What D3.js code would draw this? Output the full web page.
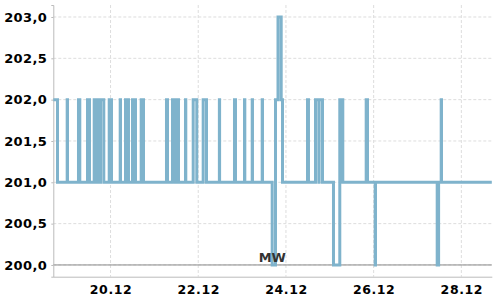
<!DOCTYPE html>
<html>
<head>
<meta charset="utf-8">
<script src="https://cdn.jsdelivr.net/npm/d3@7"></script>
<style>
  html, body { margin: 0; padding: 0; background: #fff; }
  svg { display: block; }
  .tick-label { font-family: "DejaVu Sans", sans-serif; font-size: 13px; font-weight: bold; fill: #000; letter-spacing: 0.4px; }
  .x-label { font-size: 12.5px; letter-spacing: 0.6px; }
  .mw-label { font-family: "DejaVu Sans", sans-serif; font-size: 13px; font-weight: bold; fill: #333; }
</style>
</head>
<body>
<svg id="chart" width="500" height="300"></svg>
<script>
// change points of the series (value holds until the next time)
const times = [
    "18.12 16:40", "18.12 18:58", "19.12 00:16", "19.12 00:26", "19.12 06:27", "19.12 07:10",
    "19.12 11:23", "19.12 12:29", "19.12 15:03", "19.12 16:35", "19.12 16:45", "19.12 18:20",
    "19.12 18:30", "19.12 20:18", "19.12 23:16", "20.12 00:31", "20.12 05:17", "20.12 05:27",
    "20.12 08:11", "20.12 09:49", "20.12 12:01", "20.12 13:39", "20.12 16:46", "20.12 18:02",
    "21.12 06:37", "21.12 07:10", "21.12 09:54", "21.12 11:33", "21.12 11:43", "21.12 13:11",
    "21.12 17:01", "21.12 17:11", "21.12 21:14", "21.12 23:12", "22.12 02:42", "22.12 04:31",
    "22.12 11:34", "22.12 11:41", "22.12 19:50", "22.12 20:23", "23.12 01:19", "23.12 01:29",
    "23.12 05:32", "23.12 05:41", "23.12 11:00", "23.12 11:10", "23.12 16:28", "23.12 18:17",
    "23.12 19:39", "23.12 21:24", "23.12 22:07", "24.12 11:48", "24.12 12:20", "24.12 16:10",
    "24.12 17:59", "24.12 18:09", "24.12 20:00", "25.12 02:01", "25.12 05:28", "25.12 07:07",
    "25.12 19:55", "25.12 20:38", "26.12 00:51", "26.12 01:01", "27.12 10:47", "27.12 11:33",
    "27.12 12:58", "27.12 13:08", "28.12 16:40"
]
const values = [
    202, 201, 202, 201, 202, 201,
    202, 201, 202, 201, 202, 201,
    202, 201, 202, 201, 202, 201,
    202, 201, 202, 201, 202, 201,
    202, 201, 202, 201, 202, 201,
    202, 201, 202, 201, 202, 201,
    202, 201, 202, 201, 202, 201,
    202, 201, 202, 201, 200, 202,
    203, 202, 201, 202, 201, 202,
    201, 202, 201, 200, 202, 201,
    202, 201, 200, 201, 200, 201,
    202, 201, 201
]

const xDomain = ["18.12 16:40", "28.12 16:40"]
const xTickLabels = ["20.12", "22.12", "24.12", "26.12", "28.12"]
const yDomain = [199.858, 203.145]
const yTicks = [200, 200.5, 201, 201.5, 202, 202.5, 203]
const meanValue = 200
const meanLabel = "MW"
const meanLabelEnd = "24.12 00:00"

const parse = d3.timeParse("%d.%m %H:%M")
const de = d3.formatLocale({ decimal: ",", thousands: ".", grouping: [3], currency: ["", " €"] })
const fmtY = de.format(".1f")

const width = 500
const height = 300
const margin = { top: 5, right: 8.2, bottom: 23.3, left: 53.3 }
const innerWidth = width - margin.left - margin.right
const innerHeight = height - margin.top - margin.bottom

const data = times.map((t, i) => ({ date: parse(t), value: values[i] }))

const x = d3.scaleTime().domain(xDomain.map(parse)).range([0, innerWidth])
const y = d3.scaleLinear().domain(yDomain).range([innerHeight, 0])
const xTicks = xTickLabels.map((d) => parse(d + " 00:00"))

const svg = d3.select("#chart")
const g = svg.append("g").attr("transform", `translate(${margin.left}, ${margin.top})`)

// grid
g.append("g")
    .selectAll("line")
    .data(yTicks)
    .join("line")
    .attr("x1", 0)
    .attr("x2", innerWidth)
    .attr("y1", (d) => y(d))
    .attr("y2", (d) => y(d))
    .attr("stroke", "#dddddd")
    .attr("stroke-width", 1)
    .attr("stroke-dasharray", "3,2")

g.append("g")
    .selectAll("line")
    .data(xTicks)
    .join("line")
    .attr("x1", (d) => x(d))
    .attr("x2", (d) => x(d))
    .attr("y1", 0)
    .attr("y2", innerHeight)
    .attr("stroke", "#dddddd")
    .attr("stroke-width", 1)
    .attr("stroke-dasharray", "3,2")

// mean line
g.append("line")
    .attr("x1", 0)
    .attr("x2", innerWidth)
    .attr("y1", y(meanValue))
    .attr("y2", y(meanValue))
    .attr("stroke", "#8a8a8a")
    .attr("stroke-width", 1)

// axes
const yAxis = g.append("g").call(d3.axisLeft(y).tickValues(yTicks).tickFormat(fmtY).tickSize(2).tickPadding(4))
const xAxis = g.append("g")
    .attr("transform", `translate(0, ${innerHeight})`)
    .call(d3.axisBottom(x).tickValues(xTicks).tickFormat(d3.timeFormat("%d.%m")).tickSize(0).tickPadding(8.5))

for (const axis of [yAxis, xAxis]) {
    axis.select(".domain").attr("stroke", "#bbbbbb")
    axis.selectAll(".tick line").attr("stroke", "#bbbbbb")
    axis.selectAll(".tick text").attr("class", "tick-label").attr("fill", null)
    axis.attr("font-family", null).attr("font-size", null)
}
xAxis.selectAll(".tick text").classed("x-label", true)

// series
const line = d3.line()
    .x((d) => x(d.date))
    .y((d) => y(d.value))
    .curve(d3.curveStepAfter)

g.append("path")
    .datum(data)
    .attr("fill", "none")
    .attr("stroke", "#7fb3cc")
    .attr("stroke-width", 3)
    .attr("stroke-linejoin", "miter")
    .attr("d", line)

g.append("text")
    .attr("class", "mw-label")
    .attr("x", x(parse(meanLabelEnd)))
    .attr("y", y(meanValue) - 2.5)
    .attr("text-anchor", "end")
    .text(meanLabel)
</script>
</body>
</html>
